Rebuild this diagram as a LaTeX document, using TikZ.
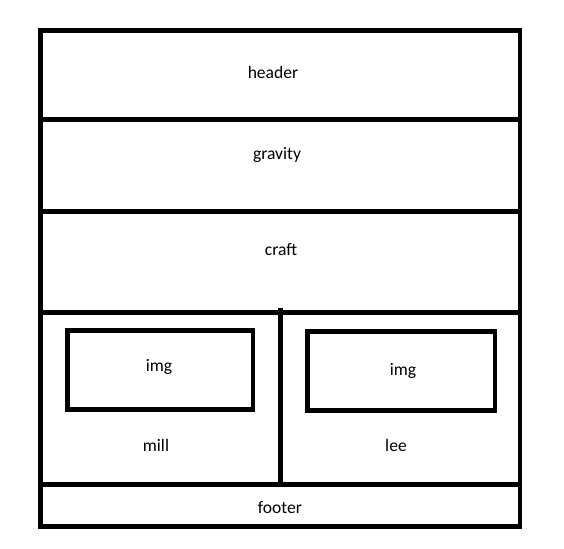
\documentclass[tikz,border=0pt]{standalone}
\usepackage{fontspec}
\setmainfont{Carlito}
\tikzset{
  wall/.style={line width=2.8pt,line cap=rect},
  lbl/.style={font=\fontsize{10}{12}\selectfont,inner sep=0pt}
}
\begin{document}
\begin{tikzpicture}[x=0.02cm,y=-0.02cm]
            \useasboundingbox (0,0) rectangle (564,548);
            \draw[wall] (40.5,30.5) rectangle (520,526.5);
            \draw[wall] (40.5,119.5) -- (520,119.5);
            \draw[wall] (40.5,211.5) -- (520,211.5);
            \draw[wall] (40.5,312.5) -- (520,312.5);
            \draw[wall] (40.5,484.5) -- (520,484.5);
            \draw[wall] (280.5,310) -- (280.5,484.5);
            \draw[wall] (67.5,330.5) rectangle (253,409.5);
            \draw[wall] (307.5,331.5) rectangle (495,410.5);
            \node[lbl] (header) at (273,72) {header};
            \node[lbl] (gravity) at (277,155) {gravity};
            \node[lbl] (craft) at (281,250) {craft};
            \node[lbl] (imgl) at (159,367) {img};
            \node[lbl] (imgr) at (403,371) {img};
            \node[lbl] (mill) at (156,445) {mill};
            \node[lbl] (lee) at (396,445) {lee};
            \node[lbl] (footer) at (280,508) {footer};
          \end{tikzpicture}
\end{document}
